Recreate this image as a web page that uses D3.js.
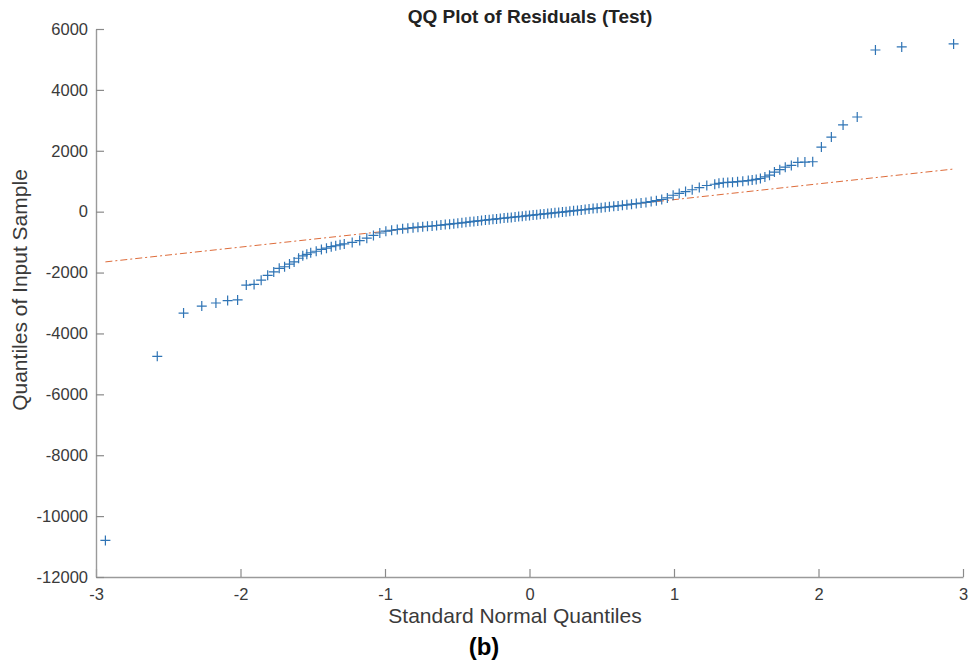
<!DOCTYPE html>
<html>
<head>
<meta charset="utf-8">
<script src="https://cdn.jsdelivr.net/npm/d3@7"></script>
<style>
  body { margin: 0; background: #fff; }
  text { font-family: "Liberation Sans", Arial, Helvetica, sans-serif; }
</style>
</head>
<body>
<div id="chart"></div>
<script>
// Standard normal quantiles (x) and sorted residuals (y)
const qx = [
  -2.935, -2.576, -2.394, -2.268, -2.170, -2.089, -2.020, -1.960, -1.906, -1.857,
  -1.812, -1.770, -1.732, -1.695, -1.661, -1.629, -1.598, -1.569, -1.541, -1.514,
  -1.476, -1.440, -1.405, -1.372, -1.341, -1.311,
  -1.282, -1.227, -1.175, -1.126, -1.080, -1.036, -0.994, -0.954, -0.915, -0.878,
  -0.842, -0.806, -0.772, -0.739, -0.706, -0.674, -0.643, -0.613, -0.583, -0.553,
  -0.524, -0.496, -0.468, -0.440, -0.412, -0.385, -0.358, -0.332, -0.305, -0.279,
  -0.253, -0.228, -0.202, -0.176, -0.151, -0.126, -0.100, -0.075, -0.050, -0.025,
  0.000,
  0.025, 0.050, 0.075, 0.100, 0.126, 0.151, 0.176, 0.202, 0.228, 0.253,
  0.279, 0.305, 0.332, 0.358, 0.385, 0.412, 0.440, 0.468, 0.496, 0.524,
  0.553, 0.583, 0.613, 0.643, 0.674, 0.706, 0.739, 0.772, 0.806, 0.842,
  0.878, 0.915, 0.954, 0.994, 1.036, 1.080, 1.126, 1.175, 1.227, 1.282,
  1.311, 1.341, 1.372, 1.405, 1.440, 1.476, 1.514, 1.541, 1.569, 1.598,
  1.629, 1.661, 1.695, 1.732, 1.770, 1.812, 1.857, 1.906, 1.960, 2.020,
  2.089, 2.170, 2.268, 2.394, 2.576, 2.935
];
const qy = [
  -10800, -4750, -3330, -3100, -3000, -2920, -2900, -2410, -2390, -2250,
  -2090, -1980, -1860, -1810, -1720, -1650, -1530, -1450, -1400, -1350,
  -1300, -1240, -1200, -1150, -1120, -1090,
  -1060, -1010, -950, -870, -780, -700, -640, -610, -585, -565,
  -545, -525, -510, -495, -482, -470, -455, -440, -425, -410,
  -395, -380, -365, -350, -335, -320, -305, -290, -275, -262,
  -250, -238, -225, -212, -200, -188, -175, -162, -150, -137,
  -125,
  -112, -100, -88, -75, -62, -50, -38, -25, -12, 0,
  15, 28, 42, 55, 70, 85, 100, 115, 130, 145,
  160, 175, 190, 208, 226, 245, 265, 285, 305, 330,
  360, 400, 450, 540, 600, 660, 720, 790, 860, 900,
  930, 950, 960, 970, 985, 1000, 1020, 1040, 1060, 1090,
  1140, 1200, 1300, 1380, 1460, 1520, 1620, 1630, 1640, 2120,
  2450, 2850, 3110, 5310, 5410, 5510
];

// reference line end points
const lineX = [-2.935, 2.935];
const lineY = [-1650, 1400];

const xTicks = [-3, -2, -1, 0, 1, 2, 3];
const yTicks = [-12000, -10000, -8000, -6000, -4000, -2000, 0, 2000, 4000, 6000];

const svg = d3.select("#chart")
  .append("svg")
  .attr("width", 971)
  .attr("height", 664);

const xScale = d3.scaleLinear().domain([-3, 3]).range([96, 963]);
const yScale = d3.scaleLinear().domain([-12000, 6000]).range([577, 29]);

// axes (ticks point inward, like MATLAB)
const xAxis = d3.axisBottom(xScale)
  .tickValues(xTicks)
  .tickFormat(d => String(d))
  .tickSizeInner(-8)
  .tickSizeOuter(0)
  .tickPadding(11);

const yAxis = d3.axisLeft(yScale)
  .tickValues(yTicks)
  .tickFormat(d => String(d))
  .tickSizeInner(-8)
  .tickSizeOuter(0)
  .tickPadding(8);

const gx = svg.append("g")
  .attr("transform", "translate(0, 577)")
  .call(xAxis);

const gy = svg.append("g")
  .attr("transform", "translate(96, 0)")
  .call(yAxis);

[gx, gy].forEach(g => {
  g.select(".domain").attr("stroke", "#9a9a9a").attr("stroke-width", 1.4);
  g.selectAll(".tick line").attr("stroke", "#8a8a8a").attr("stroke-width", 1.2);
  g.selectAll(".tick text")
    .attr("fill", "#3a3a3a")
    .style("font-size", "16.5px")
    .style("font-family", "'Liberation Sans', Arial, sans-serif");
});

// reference line
svg.append("line")
  .attr("x1", xScale(lineX[0]))
  .attr("y1", yScale(lineY[0]))
  .attr("x2", xScale(lineX[1]))
  .attr("y2", yScale(lineY[1]))
  .attr("stroke", "#D95319")
  .attr("stroke-width", 1)
  .attr("stroke-dasharray", "7,3,2,3")
  .attr("opacity", 0.85);

// "+" markers
svg.append("g")
  .selectAll("path")
  .data(qx.map((x, i) => ({ x: x, y: qy[i] })))
  .enter()
  .append("path")
  .attr("transform", d => `translate(${xScale(d.x)},${yScale(d.y)})`)
  .attr("d", "M-5,0H5M0,-5V5")
  .attr("stroke", "#2f74b5")
  .attr("stroke-width", 1.2)
  .attr("fill", "none");

// title and labels
svg.append("text")
  .attr("x", 530)
  .attr("y", 23)
  .attr("text-anchor", "middle")
  .attr("font-weight", "bold")
  .attr("fill", "#222")
  .style("font-size", "19px")
  .text("QQ Plot of Residuals (Test)");

svg.append("text")
  .attr("x", 515)
  .attr("y", 623)
  .attr("text-anchor", "middle")
  .attr("fill", "#3a3a3a")
  .style("font-size", "21px")
  .text("Standard Normal Quantiles");

svg.append("text")
  .attr("x", -290)
  .attr("y", 27)
  .attr("transform", "rotate(-90)")
  .attr("text-anchor", "middle")
  .attr("fill", "#3a3a3a")
  .style("font-size", "21px")
  .text("Quantiles of Input Sample");

svg.append("text")
  .attr("x", 484)
  .attr("y", 655)
  .attr("text-anchor", "middle")
  .attr("font-weight", "bold")
  .attr("fill", "#000")
  .style("font-size", "24px")
  .text("(b)");
</script>
</body>
</html>
